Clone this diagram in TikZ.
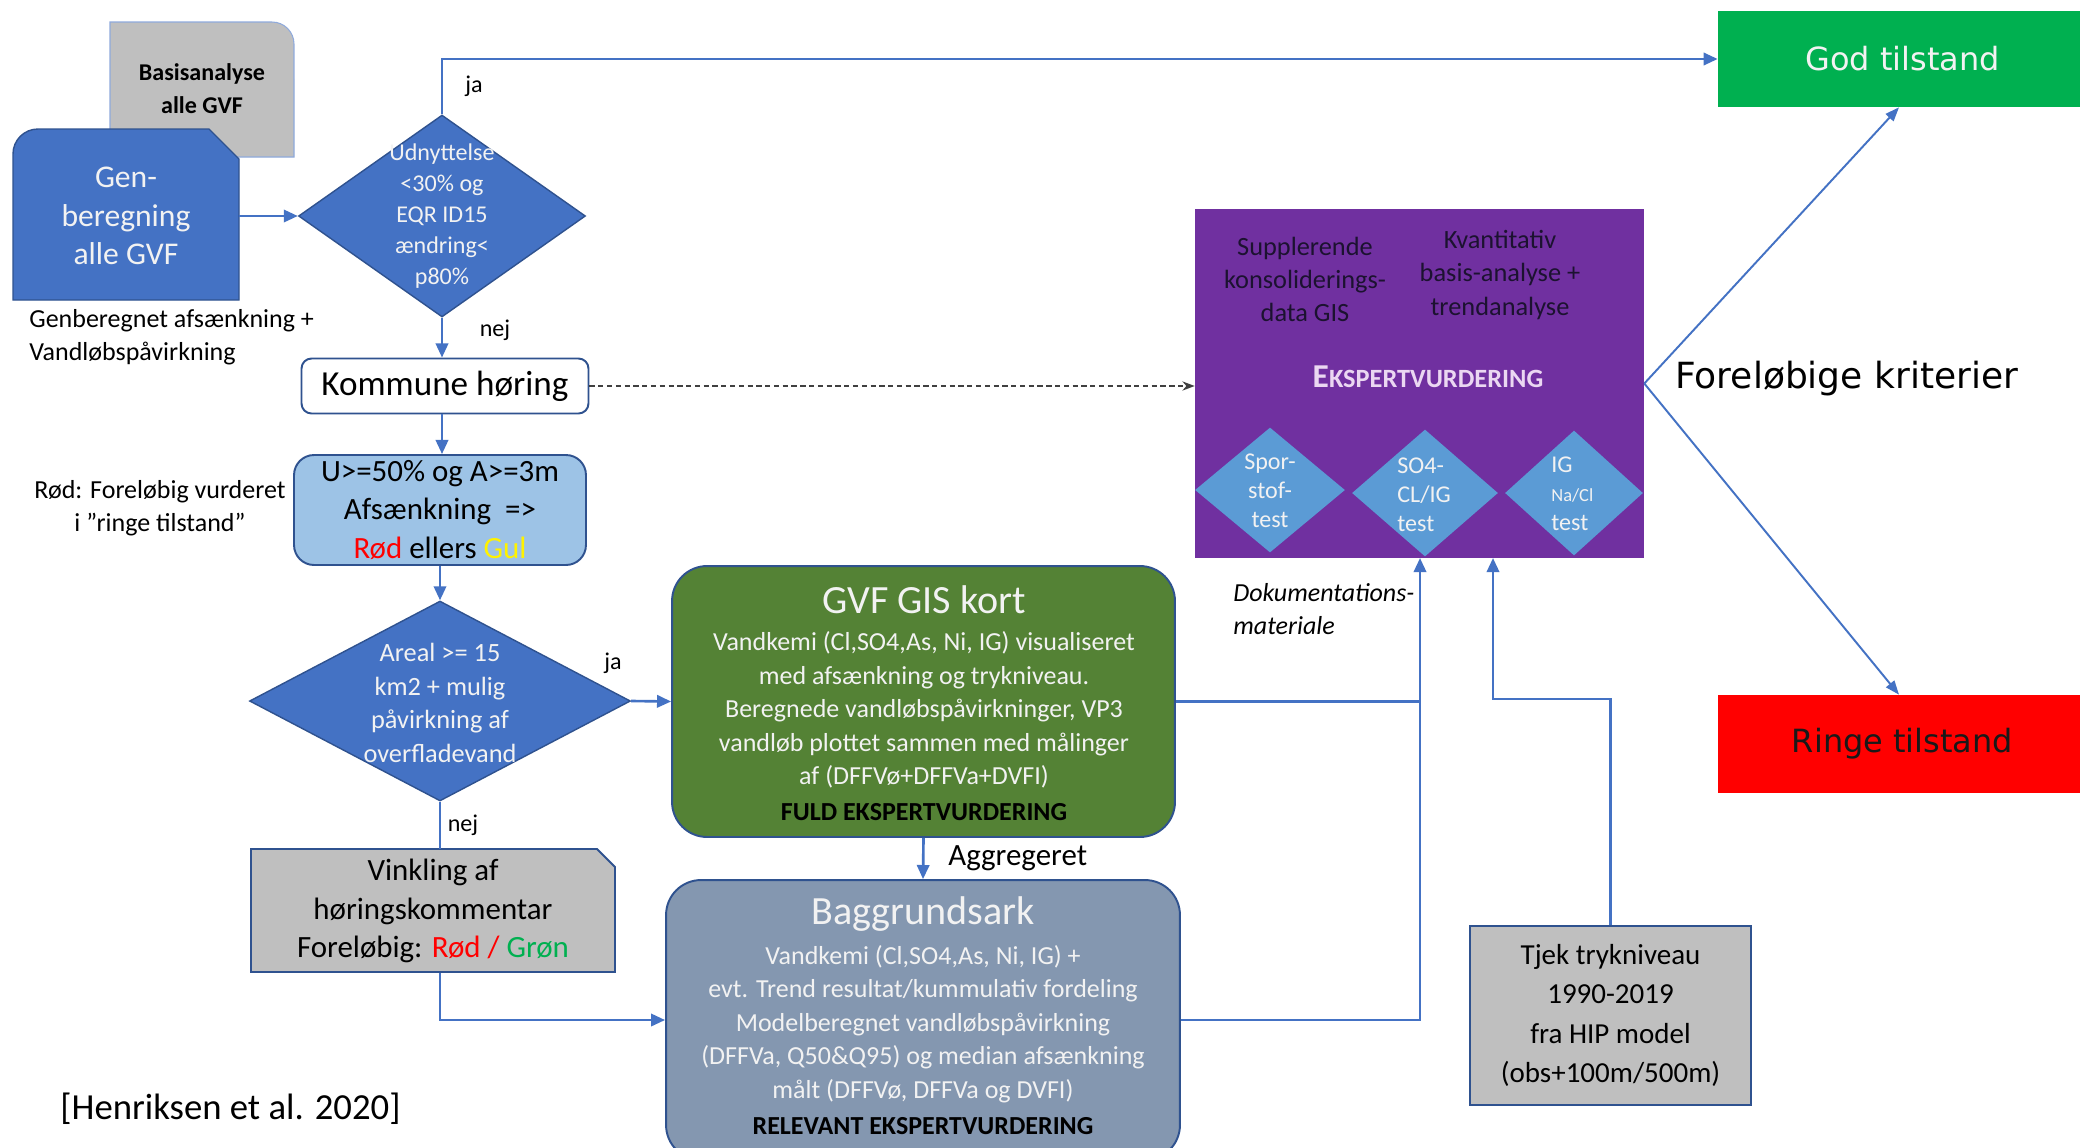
\documentclass[tikz,border=0pt]{standalone}
\usepackage{fontspec}
\setmainfont{Carlito}
\newfontfamily\verdanafont{DejaVu Sans}
\usetikzlibrary{arrows.meta, positioning, shapes.geometric}
\definecolor{genblue}  {HTML}{4472C4}
\definecolor{edgeblue} {HTML}{2F528F}
\definecolor{paleblue} {HTML}{9DC3E6}
\definecolor{boxgray}  {HTML}{BFBFBF}
\definecolor{gisgreen} {HTML}{548235}
\definecolor{sheetblue}{HTML}{8497B0}
\definecolor{expurple} {HTML}{7030A0}
\definecolor{testblue} {HTML}{5B9BD5}
\definecolor{godgreen} {HTML}{00B050}
\definecolor{ringered} {HTML}{FF0000}
\definecolor{darkink}  {HTML}{1C1230}
\definecolor{pinkink}  {HTML}{EBD7F2}
\definecolor{lightink} {HTML}{F2F2F2}
\newcommand{\fsz}[2]{\fontsize{#1}{#2}\selectfont}
\tikzset{
	flowbox/.style={
		rectangle, align=center, inner sep=0pt,
		draw=edgeblue, line width=1.1pt
	},
	plaintext/.style={
		align=center, inner sep=0pt
	},
	decision/.style={
		diamond, inner sep=0pt,
		fill=genblue, draw=edgeblue, line width=0.8pt
	},
	testdiamond/.style={
		diamond, inner sep=0pt, fill=testblue
	},
	flow/.style={
		-{Triangle[length=8pt, width=7pt]}, line width=1.5pt, color=genblue
	},
	flowline/.style={
		line width=1.5pt, color=genblue
	},
	thinflow/.style={
		-{Triangle[length=8pt, width=6pt]}, line width=1.1pt, color=genblue
	},
	dasharrow/.style={
		-{Stealth[length=7pt]}, dash pattern=on 3pt off 2pt,
		line width=0.9pt, color=black!75
	}
}

\begin{document}
\begin{tikzpicture}[x=0.02cm, y=-0.02cm]

	\clip (0,0) rectangle (2080,1147);
	\fill[white] (0,0) rectangle (2080,1147);

	%% ═══════════════════════════════
	%%  LEFT COLUMN — Basisanalyse + Genberegning
	%% ═══════════════════════════════
	\filldraw[fill=boxgray, draw=genblue!60, line width=0.6pt]
		(110,157) -- (110,22) -- (272,22)
		arc[start angle=90, end angle=0, radius=0.44cm] -- (294,157) -- cycle;
	\node[plaintext, font=\bfseries\fsz{13.7}{18.8}] (basis) at (202,89) {Basisanalyse\\alle GVF};

	\filldraw[fill=genblue, draw=edgeblue, line width=0.8pt]
		(13,300) -- (13,154)
		arc[start angle=180, end angle=90, radius=0.5cm] -- (209,129) -- (239,159) -- (239,300) -- cycle;
	\node[plaintext, text=lightink, font=\fsz{18}{21.9},
	minimum width=4.52cm, minimum height=3.42cm] (gen) at (126,216) {Gen-\\beregning\\alle GVF};

	\node[plaintext, align=left, anchor=west, font=\fsz{14.8}{18.8}] (gencap) at (29,337)
		{Genberegnet afsænkning +\\Vandløbspåvirkning};

	%% Udnyttelse decision
	\node[decision, minimum width=5.74cm, minimum height=4.04cm] (dec1) at (442,216) {};
	\node[plaintext, text=lightink, font=\fsz{13.7}{17.6}] (dec1txt) at (dec1)
		{Udnyttelse\\<30\% og\\EQR ID15\\ændring<\\p80\%};

	%% ═══════════════════════════════
	%%  Kommune høring -> U/A box -> Areal decision
	%% ═══════════════════════════════
	\node[flowbox, fill=white, rounded corners=0.2cm,
	minimum width=5.74cm, minimum height=1.1cm,
	font=\fsz{20}{24}] (kommune) at (445,386) {Kommune høring};

	\node[flowbox, fill=paleblue, rounded corners=0.4cm,
	minimum width=5.84cm, minimum height=2.2cm,
	font=\fsz{17.6}{21.9}] (ubox) at (440,510)
		{U>=50\% og A>=3m\\Afsænkning\ \ =>\\{\color{ringered}Rød} ellers {\color{yellow}Gul}};

	\node[plaintext, font=\fsz{14.8}{18.8}] (rodcap) at (160,508)
		{Rød: Foreløbig vurderet\\i ”ringe tilstand”};

	\node[decision, minimum width=7.62cm, minimum height=4.0cm] (dec2) at (440,701) {};
	\node[plaintext, text=lightink, font=\fsz{15}{19.1}] (dec2txt) at (440,703)
		{Areal >= 15\\km2 + mulig\\påvirkning af\\overfladevand};

	%% Vinkling (snipped corner)
	\filldraw[fill=boxgray, draw=edgeblue, line width=1.1pt]
		(251,972) -- (251,849) -- (597,849) -- (615,867) -- (615,972) -- cycle;
	\node[plaintext, minimum width=7.28cm, minimum height=2.46cm,
	font=\fsz{17.6}{21.9}] (vink) at (433,911)
		{Vinkling af\\høringskommentar\\Foreløbig: {\color{ringered}Rød / }{\color{godgreen}Grøn}};

	%% ═══════════════════════════════
	%%  MIDDLE — GIS kort + Baggrundsark
	%% ═══════════════════════════════
	\node[flowbox, fill=gisgreen, rounded corners=0.7cm,
	minimum width=10.06cm, minimum height=5.42cm] (gis) at (923.5,701.5) {};
	\node[plaintext, text=lightink, font=\fsz{22.8}{26}] (gistitle) at (924,600) {GVF GIS kort};
	\node[plaintext, text=lightink, font=\fsz{14.8}{19}] (gisbody) at (924,710)
		{Vandkemi (Cl,SO4,As, Ni, IG) visualiseret\\
		 med afsænkning og trykniveau.\\
		 Beregnede vandløbspåvirkninger, VP3\\
		 vandløb plottet sammen med målinger\\
		 af (DFFVø+DFFVa+DVFI)};
	\node[plaintext, font=\bfseries\fsz{14.8}{18}] (gisfoot) at (924,812) {FULD EKSPERTVURDERING};

	\node[flowbox, fill=sheetblue, rounded corners=0.7cm,
	minimum width=10.28cm, minimum height=5.6cm] (bagg) at (923,1020) {};
	\node[plaintext, text=lightink, font=\fsz{22.8}{26}] (baggtitle) at (923,914) {Baggrundsark};
	\node[plaintext, text=lightink, font=\fsz{14.8}{19}] (baggbody) at (923,1024)
		{Vandkemi (Cl,SO4,As, Ni, IG) +\\
		 evt. Trend resultat/kummulativ fordeling\\
		 Modelberegnet vandløbspåvirkning\\
		 (DFFVa, Q50\&Q95) og median afsænkning\\
		 målt (DFFVø, DFFVa og DVFI)};
	\node[plaintext, font=\bfseries\fsz{14.8}{18}] (baggfoot) at (923,1126) {RELEVANT EKSPERTVURDERING};

	%% ═══════════════════════════════
	%%  EKSPERTVURDERING block
	%% ═══════════════════════════════
	\node[rectangle, fill=expurple, inner sep=0pt,
	minimum width=8.98cm, minimum height=6.98cm] (expert) at (1419.5,383.5) {};

	\node[plaintext, text=darkink, font=\fsz{15}{18.8}] (suppl) at (1305,279)
		{Supplerende\\konsoliderings-\\data GIS};
	\node[plaintext, text=darkink, font=\fsz{15}{18.8}] (kvant) at (1500,275)
		{Kvantitativ\\basis-analyse +\\trendanalyse};
	\node[plaintext, text=pinkink, font=\bfseries] (exptitle) at (1428,377)
		{\fsz{19}{22}E\fsz{15}{18}KSPERTVURDERING};

	\node[testdiamond, minimum width=3.0cm,  minimum height=2.5cm]  (test1) at (1270,490) {};
	\node[testdiamond, minimum width=2.92cm, minimum height=2.54cm] (test2) at (1425,493) {};
	\node[testdiamond, minimum width=2.76cm, minimum height=2.5cm]  (test3) at (1574,493) {};

	\node[plaintext, text=lightink, font=\fsz{13.7}{16.5}] (test1txt) at (1270,491) {Spor-\\stof-\\test};
	\node[plaintext, align=left, anchor=west, text=lightink, font=\fsz{13.7}{16.5}] (test2txt) at (1397,495)
		{SO4-\\CL/IG\\test};
	\node[plaintext, align=left, anchor=west, text=lightink, font=\fsz{13.7}{16.5}] (test3txt) at (1551,494)
		{IG\\{\fsz{10.5}{16.5}Na/Cl}\\test};

	\node[plaintext, align=left, anchor=west, font=\itshape\fsz{14.8}{18.5}] (doccap) at (1233,609)
		{Dokumentations-\\materiale};

	%% Tjek trykniveau
	\node[flowbox, fill=boxgray, minimum width=5.62cm, minimum height=3.58cm,
	font=\fsz{16.5}{22.4}] (tjek) at (1610.5,1015.5)
		{Tjek trykniveau\\1990-2019\\fra HIP model\\(obs+100m/500m)};

	%% ═══════════════════════════════
	%%  RIGHT — results
	%% ═══════════════════════════════
	\node[rectangle, fill=godgreen, minimum width=7.24cm, minimum height=1.92cm,
	text=lightink, font=\verdanafont\fsz{18.2}{22}] (god) at (1899,59) {\hspace{0.14cm}God tilstand};
	\node[rectangle, fill=ringered, minimum width=7.24cm, minimum height=1.96cm,
	text=black!90, font=\verdanafont\fsz{18.2}{22}] (ringe) at (1899,744) {\hspace{0.14cm}Ringe tilstand};
	\node[plaintext, anchor=west, font=\verdanafont\fsz{20.5}{24}] (kriterier) at (1675,379)
		{Foreløbige kriterier};

	\node[plaintext, anchor=west, font=\fsz{20.9}{25}] (kilde) at (60,1109) {[Henriksen et al. 2020]};

	%% ═══════════════════════════════
	%%  ARROWS
	%% ═══════════════════════════════
	\coordinate (docin) at (1420,558);
	\coordinate (hipin) at (1493,558);

	% Genberegning -> Udnyttelse
	\draw[flow] (gen.east |- dec1) -- (dec1.west);

	% ja -> God tilstand
	\draw[flow] (dec1.north) |- (god.west);
	\node[plaintext, font=\fsz{13.7}{16}] (ja1) at (474,86) {ja};

	% nej -> Kommune høring -> U/A -> Areal
	\draw[flow] (dec1.south) -- (dec1.south |- kommune.north);
	\node[plaintext, font=\fsz{13.7}{16}] (nej1) at (495,330) {nej};
	\draw[flow] (kommune.south -| dec1) -- (ubox.north -| dec1);
	\draw[flow] (ubox.south -| dec2) -- (dec2.north);

	% Kommune høring -> Ekspertvurdering
	\draw[dasharrow] (kommune.east) -- (kommune.east -| expert.west);

	% Areal: ja / nej
	\draw[flow] (dec2.east) -- (gis.west);
	\node[plaintext, font=\fsz{13.7}{16}] (ja2) at (613,663) {ja};
	\draw[flowline] (dec2.south) -- (dec2.south |- vink.north);
	\node[plaintext, font=\fsz{13.7}{16}] (nej2) at (463,825) {nej};
	\draw[flow] (dec2.south |- vink.south) |- (bagg.west);

	% GIS kort -> Baggrundsark
	\draw[flow] (gis.south) -- (bagg.north);
	\node[plaintext, anchor=west, font=\fsz{17.6}{20}] (aggr) at (948,858) {Aggregeret};

	% Dokumentationsmateriale
	\draw[flowline] (gis.east) -- (gis.east -| docin);
	\draw[flow] (bagg.east) -| (docin);
	\draw[flow] (tjek.north) -- ++(0,-226) -| (hipin);

	% Foreløbige kriterier
	\draw[thinflow] (expert.east) -- (god.south);
	\draw[thinflow] (expert.east) -- (ringe.north);

\end{tikzpicture}
\end{document}
